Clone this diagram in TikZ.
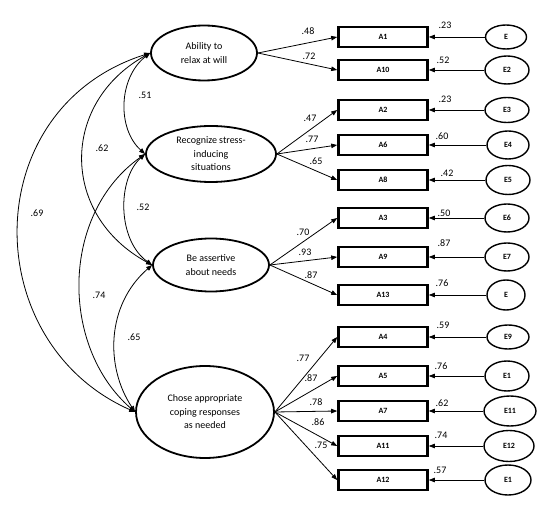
\documentclass[tikz,border=0pt]{standalone}
\usepackage{fontspec}
\setmainfont{Carlito}
\usetikzlibrary{arrows.meta,shapes.geometric}
\begin{document}
\begin{tikzpicture}[x=1pt,y=-1pt,
  latent/.style={draw, ellipse, line width=1.8pt, align=center, inner sep=0pt,
    font=\fontsize{10}{13.5}\selectfont},
  obs/.style={draw, rectangle, line width=2.6pt, minimum width=89pt, minimum height=20pt,
    inner sep=0pt, font=\fontsize{8}{9}\selectfont\bfseries},
  err/.style={draw, ellipse, line width=1.4pt, inner sep=0pt, font=\fontsize{8}{9}\selectfont\bfseries},
  arr/.style={line width=0.8pt, -{Triangle[length=6pt,width=4.5pt]}},
  cov/.style={line width=0.8pt, {Triangle[length=6pt,width=4.5pt]}-{Triangle[length=6pt,width=4.5pt]}},
  lab/.style={inner sep=0pt, font=\fontsize{10}{11}\selectfont}]
\useasboundingbox (0,0) rectangle (554,510);
% latent
\node[latent, minimum width=106pt, minimum height=55pt] (L1) at (204,53) {Ability to\\relax at will};
\node[latent, minimum width=130pt, minimum height=56pt] (L2) at (211,154) {Recognize stress-\\inducing\\situations};
\node[latent, minimum width=116pt, minimum height=53pt] (L3) at (211,265) {Be assertive\\about needs};
\node[latent, minimum width=138pt, minimum height=92pt] (L4) at (205,412) {Chose appropriate\\coping responses\\as needed};
% observed
\node[obs] (A1) at (383,37) {A1};
\node[obs] (A10) at (383,70) {A10};
\node[obs] (A2) at (383,110) {A2};
\node[obs] (A6) at (383,145) {A6};
\node[obs] (A8) at (383,180) {A8};
\node[obs] (A3) at (383,218) {A3};
\node[obs] (A9) at (383,257) {A9};
\node[obs] (A13) at (383,295) {A13};
\node[obs] (A4) at (383,337) {A4};
\node[obs] (A5) at (383,376) {A5};
\node[obs] (A7) at (383,411) {A7};
\node[obs] (A11) at (383,446) {A11};
\node[obs] (A12) at (383,480) {A12};
% errors
\node[err, minimum width=41pt, minimum height=24pt] (e1) at (506,37) {E};
\node[err, minimum width=44pt, minimum height=28pt] (e2) at (507,70) {E2};
\node[err, minimum width=44pt, minimum height=25pt] (e3) at (507,110) {E3};
\node[err, minimum width=42pt, minimum height=28pt] (e4) at (508,145) {E4};
\node[err, minimum width=44pt, minimum height=29pt] (e5) at (508,180) {E5};
\node[err, minimum width=44pt, minimum height=28pt] (e6) at (507,218) {E6};
\node[err, minimum width=44pt, minimum height=28pt] (e7) at (507,257) {E7};
\node[err, minimum width=38pt, minimum height=30pt] (e8) at (506,295) {E};
\node[err, minimum width=42pt, minimum height=24pt] (e9) at (508,337) {E9};
\node[err, minimum width=44pt, minimum height=30pt] (e10) at (507,376) {E1};
\node[err, minimum width=52pt, minimum height=30pt] (e11) at (510,411) {E11};
\node[err, minimum width=50pt, minimum height=31pt] (e12) at (509,446) {E12};
\node[err, minimum width=46pt, minimum height=30pt] (e13) at (508,480) {E1};
% error arrows
\foreach \e/\a in {e1/A1,e2/A10,e3/A2,e4/A6,e5/A8,e6/A3,e7/A9,e8/A13,e9/A4,e10/A5,e11/A7,e12/A11,e13/A12}
  \draw[arr] (\e.west) -- (\a.east);
% loadings
\foreach \a in {A1,A10} \draw[arr] (L1.east) -- (\a.west);
\foreach \a in {A2,A6,A8} \draw[arr] (L2.east) -- (\a.west);
\foreach \a in {A3,A9,A13} \draw[arr] (L3.east) -- (\a.west);
\foreach \a in {A4,A5,A7,A11,A12} \draw[arr] (L4.east) -- (\a.west);
% covariances
\draw[cov] (L1.west) .. controls +(-32,25) and +(-28,-25) .. (L2.west);
\draw[cov] (L1.west) .. controls +(-90,50) and +(-92,-50) .. (L3.west);
\draw[cov] (L1.west) .. controls +(-173,55) and +(-158,-70) .. (L4.west);
\draw[cov] (L2.west) .. controls +(-28,25) and +(-35,-25) .. (L3.west);
\draw[cov] (L2.west) .. controls +(-85,60) and +(-75,-65) .. (L4.west);
\draw[cov] (L3.west) .. controls +(-46,40) and +(-30,-45) .. (L4.west);
% loading labels
\node[lab] (l1) at (308,31) {.48};
\node[lab] (l2) at (309,56) {.72};
\node[lab] (l3) at (310,118) {.47};
\node[lab] (l4) at (312,139) {.77};
\node[lab] (l5) at (316,161) {.65};
\node[lab] (l6) at (303,232) {.70};
\node[lab] (l7) at (305,252) {.93};
\node[lab] (l8) at (311,275) {.87};
\node[lab] (l9) at (303,358) {.77};
\node[lab] (l10) at (311,378) {.87};
\node[lab] (l11) at (316,402) {.78};
\node[lab] (l12) at (318,422) {.86};
\node[lab] (l13) at (321,445) {.75};
% covariance labels
\node[lab] (c1) at (145,95) {.51};
\node[lab] (c2) at (102,148) {.62};
\node[lab] (c3) at (37,213) {.69};
\node[lab] (c4) at (143,207) {.52};
\node[lab] (c5) at (99,295) {.74};
\node[lab] (c6) at (134,337) {.65};
% error labels
\node[lab] (r1) at (445,25) {.23};
\node[lab] (r2) at (443,60) {.52};
\node[lab] (r3) at (445,99) {.23};
\node[lab] (r4) at (442,136) {.60};
\node[lab] (r5) at (447,173) {.42};
\node[lab] (r6) at (444,213) {.50};
\node[lab] (r7) at (444,243) {.87};
\node[lab] (r8) at (442,283) {.76};
\node[lab] (r9) at (443,325) {.59};
\node[lab] (r10) at (441,366) {.76};
\node[lab] (r11) at (442,403) {.62};
\node[lab] (r12) at (441,435) {.74};
\node[lab] (r13) at (440,470) {.57};
\end{tikzpicture}
\end{document}
